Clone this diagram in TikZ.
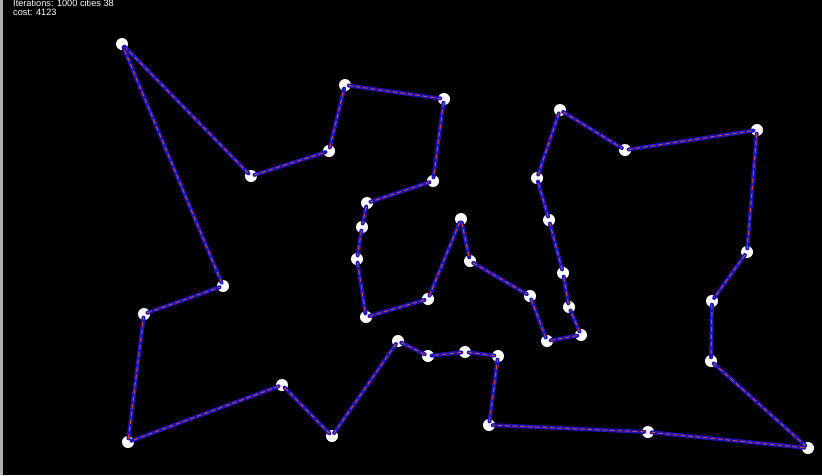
\documentclass[tikz,border=0pt]{standalone}
\usepackage{fontspec}
\setsansfont{Liberation Sans}
\usepackage{tikz}
\usetikzlibrary{calc}
\tikzset{
  city/.style={circle, fill=white, inner sep=0pt, minimum size=12pt},
  tourln/.style={draw=tourblue, line width=4pt, line cap=round, line join=round,
    shorten <=-2.5pt, shorten >=-2.5pt,
    postaction={draw=tourred, line width=1pt, dash pattern=on 4pt off 3.5pt,
      shorten <=-2.5pt, shorten >=-2.5pt}},
  infotxt/.style={white, font=\sffamily\fontsize{9.2}{8.6}\selectfont, align=left,
    inner sep=0pt, anchor=north west},
}
\definecolor{tourblue}{RGB}{24,20,190}
\definecolor{tourred}{RGB}{210,70,50}
\definecolor{edgegray}{RGB}{175,175,175}

\begin{document}
\begin{tikzpicture}[x=1pt, y=-1pt]
    % screen
    \fill[black] (0,0) rectangle (822,475);
    \fill[edgegray] (0,0) rectangle (3,475);
    \useasboundingbox (0,0) rectangle (822,475);
    % cities
    \foreach \n/\x/\y in {1/122/44, 2/251/176, 3/329/151, 4/345/85, 5/444/99,
        6/433/181, 7/367/203, 8/362/227, 9/357/259, 10/366/317,
        11/428/299, 12/461/219, 13/470/261, 14/530/296, 15/547/341,
        16/581/335, 17/569/307, 18/563/273, 19/549/220, 20/537/178,
        21/560/110, 22/625/150, 23/757/130, 24/747/252, 25/712/301,
        26/711/361, 27/808/448, 28/648/432, 29/489/425, 30/498/356,
        31/465/352, 32/428/356, 33/398/341, 34/332/436, 35/282/385,
        36/128/442, 37/144/314, 38/223/286}
      \node[city] (c\n) at (\x,\y) {};
    % tour
    \foreach \a/\b in {1/2, 2/3, 3/4, 4/5, 5/6, 6/7, 7/8, 8/9, 9/10, 10/11,
        11/12, 12/13, 13/14, 14/15, 15/16, 16/17, 17/18, 18/19, 19/20, 20/21,
        21/22, 22/23, 23/24, 24/25, 25/26, 26/27, 27/28, 28/29, 29/30, 30/31,
        31/32, 32/33, 33/34, 34/35, 35/36, 36/37, 37/38, 38/1}
      \draw[tourln] (c\a) -- (c\b);
    % status text
    \node[infotxt] (info) at (13,0) {Iterations: 1000 cities 38\\cost: 4123};
\end{tikzpicture}
\end{document}
